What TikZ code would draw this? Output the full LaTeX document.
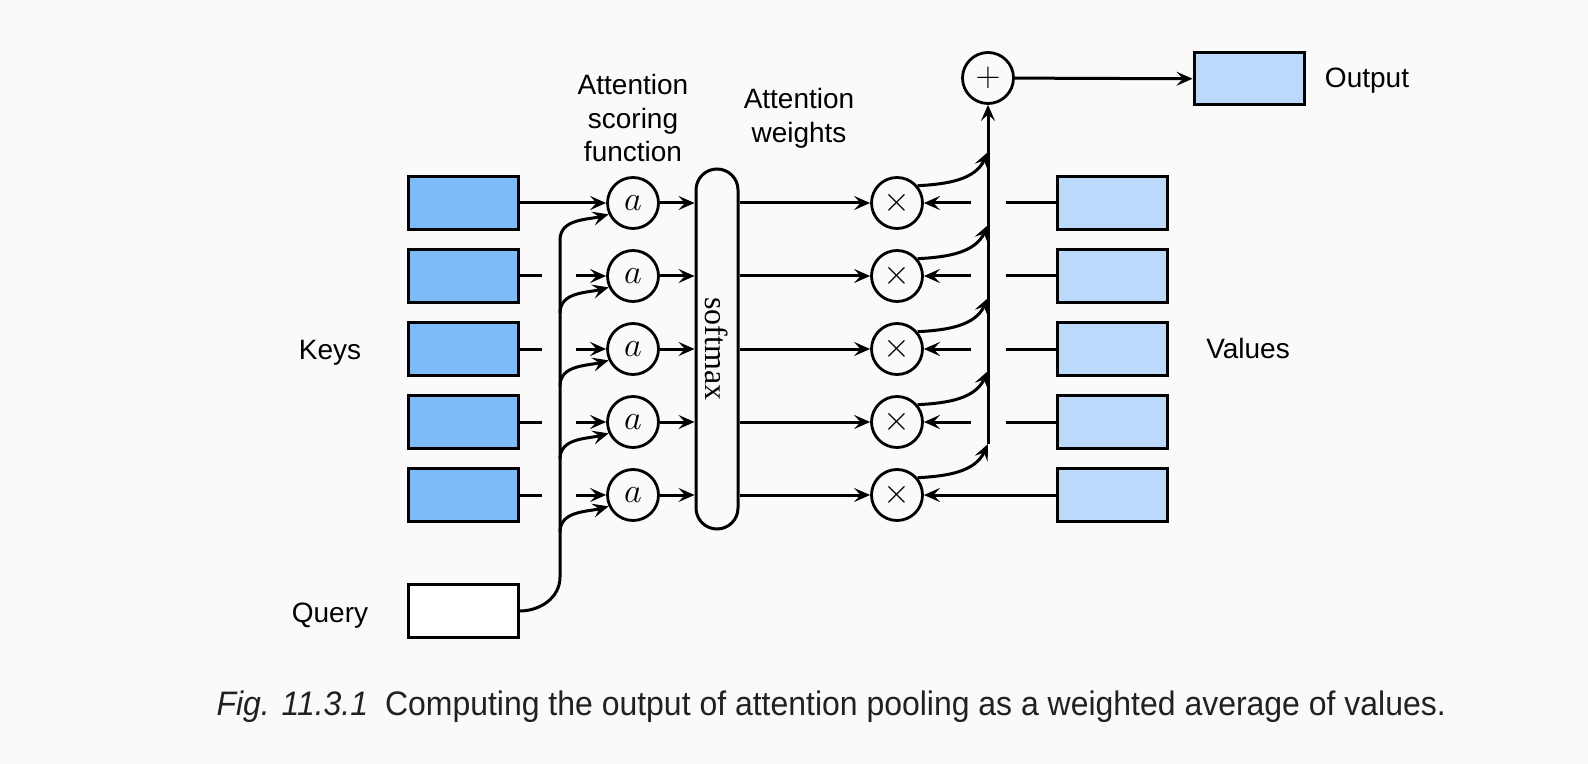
\documentclass[tikz,border=0pt]{standalone}
\usepackage{fontspec}
\setmainfont{Liberation Sans}
\newfontfamily\smfont{Liberation Serif}
\newfontfamily\capfont[FakeStretch=0.94]{Liberation Sans}
\usetikzlibrary{arrows.meta}
\definecolor{keyblue}{RGB}{125,186,248}
\definecolor{valblue}{RGB}{187,217,250}
\definecolor{bggray}{RGB}{250,250,250}
\definecolor{captext}{RGB}{33,33,33}
\begin{document}
\begin{tikzpicture}[x=0.5pt,y=-0.5pt,line width=1.5pt,
box/.style={draw,minimum width=55pt,minimum height=26.5pt,inner sep=0pt},
op/.style={draw,circle,minimum size=25.5pt,inner sep=0pt,line width=1.4pt},
lbl/.style={font=\fontsize{14}{16.75}\selectfont,align=center,inner sep=0pt},
arr/.style={-{Stealth[length=8pt,width=7pt,inset=3.2pt]}}]
\fill[bggray](0,0)rectangle(1588,764);
% rows: key, scoring, product, value
\node[box,fill=keyblue](k1)at(463,203){};\node[op,font=\fontsize{18}{18}\selectfont](a1)at(633,203){$a$};\node[op,font=\fontsize{17}{17}\selectfont](m1)at(897,203){$\times$};\node[box,fill=valblue](v1)at(1112,203){};
\node[box,fill=keyblue](k2)at(463,276){};\node[op,font=\fontsize{18}{18}\selectfont](a2)at(633,276){$a$};\node[op,font=\fontsize{17}{17}\selectfont](m2)at(897,276){$\times$};\node[box,fill=valblue](v2)at(1112,276){};
\node[box,fill=keyblue](k3)at(463,349){};\node[op,font=\fontsize{18}{18}\selectfont](a3)at(633,349){$a$};\node[op,font=\fontsize{17}{17}\selectfont](m3)at(897,349){$\times$};\node[box,fill=valblue](v3)at(1112,349){};
\node[box,fill=keyblue](k4)at(463,422){};\node[op,font=\fontsize{18}{18}\selectfont](a4)at(633,422){$a$};\node[op,font=\fontsize{17}{17}\selectfont](m4)at(897,422){$\times$};\node[box,fill=valblue](v4)at(1112,422){};
\node[box,fill=keyblue](k5)at(463,495){};\node[op,font=\fontsize{18}{18}\selectfont](a5)at(633,495){$a$};\node[op,font=\fontsize{17}{17}\selectfont](m5)at(897,495){$\times$};\node[box,fill=valblue](v5)at(1112,495){};
\node[box,fill=white](q)at(463,611){};
\node[draw,rounded corners=10.5pt,minimum width=21pt,minimum height=180pt,inner sep=0pt](sm)at(717,349){\rotatebox{-90}{\smfont\fontsize{16}{16}\selectfont softmax}};
\node[op,font=\fontsize{17}{17}\selectfont](p)at(988,78){$+$};
\node[box,fill=valblue,minimum height=26pt](o)at(1249,79){};
% labels
\node[lbl,anchor=base](keys)at(330,359){Keys};
\node[lbl,anchor=base](query)at(330,622){Query};
\node[lbl,anchor=base](values)at(1248,358){Values};
\node[lbl,anchor=base](output)at(1367,88){Output};
\node[lbl,anchor=north](score)at(633,73){Attention\\scoring\\function};
\node[lbl,anchor=north](weights)at(799,87){Attention\\weights};
% query line and its branches
\coordinate(qup)at(560,577);
\coordinate(b1)at(560,240);\coordinate(b2)at(560,313);\coordinate(b3)at(560,386);\coordinate(b4)at(560,459);\coordinate(b5)at(560,532);
\draw(q.east)to[out=0,in=-90](qup)--(b1);
\draw[arr](b1)to[out=90,in=195](a1.205);\draw[arr](b2)to[out=90,in=195](a2.205);\draw[arr](b3)to[out=90,in=195](a3.205);
\draw[arr](b4)to[out=90,in=195](a4.205);\draw[arr](b5)to[out=90,in=195](a5.205);
% keys to scoring
\draw[arr](k1)--(a1);
\draw(k2.east)--++(22,0)(k3.east)--++(22,0)(k4.east)--++(22,0)(k5.east)--++(22,0);
\draw[arr]([xshift=-15pt]a2.west)--(a2.west);\draw[arr]([xshift=-15pt]a3.west)--(a3.west);
\draw[arr]([xshift=-15pt]a4.west)--(a4.west);\draw[arr]([xshift=-15pt]a5.west)--(a5.west);
% scoring to softmax to products
\draw[arr](a1.east)--(a1.east-|sm.west);\draw[arr](a2.east)--(a2.east-|sm.west);\draw[arr](a3.east)--(a3.east-|sm.west);
\draw[arr](a4.east)--(a4.east-|sm.west);\draw[arr](a5.east)--(a5.east-|sm.west);
\draw[arr](m1-|sm.east)--(m1);\draw[arr](m2-|sm.east)--(m2);\draw[arr](m3-|sm.east)--(m3);\draw[arr](m4-|sm.east)--(m4);\draw[arr](m5-|sm.east)--(m5);
% values to products
\draw(v1.west)--++(-50,0)(v2.west)--++(-50,0)(v3.west)--++(-50,0)(v4.west)--++(-50,0);
\draw[arr]([xshift=23.5pt]m1.east)--(m1.east);\draw[arr]([xshift=23.5pt]m2.east)--(m2.east);
\draw[arr]([xshift=23.5pt]m3.east)--(m3.east);\draw[arr]([xshift=23.5pt]m4.east)--(m4.east);
\draw[arr](v5)--(m5);
% sum
\coordinate(s1)at(988,152);\coordinate(s2)at(988,225);\coordinate(s3)at(988,298);\coordinate(s4)at(988,371);\coordinate(s5)at(988,444);
\draw[arr](m1.40)to[out=3,in=-115](s1);\draw[arr](m2.40)to[out=3,in=-115](s2);\draw[arr](m3.40)to[out=3,in=-115](s3);
\draw[arr](m4.40)to[out=3,in=-115](s4);\draw[arr](m5.40)to[out=3,in=-115](s5);
\draw[arr](s5)--(p);
\draw[arr](p)--(o);
% caption
\node[anchor=base west,inner sep=0pt,text=captext,font=\capfont\fontsize{17}{20}\selectfont](cap)at(215,715){\textit{Fig. 11.3.1}\enspace Computing the output of attention pooling as a weighted average of values.};
\end{tikzpicture}
\end{document}
